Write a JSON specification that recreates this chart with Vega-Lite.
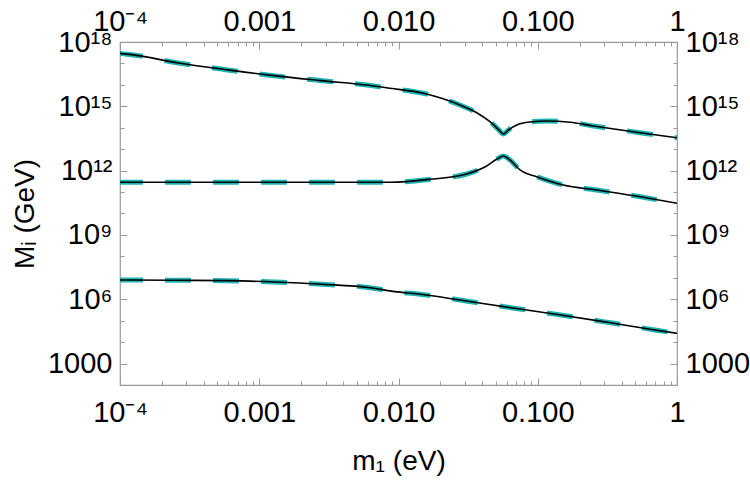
{
  "$schema": "https://vega.github.io/schema/vega-lite/v6.json",
  "width": 557,
  "height": 343,
  "autosize": "none",
  "padding": {"left": 120, "top": 42, "right": 73, "bottom": 95},
  "background": "white",
  "config": {
    "view": {"stroke": "#9a9a9a", "strokeWidth": 1.2},
    "font": "Liberation Sans",
    "axis": {
      "domain": false,
      "grid": false,
      "tickColor": "#9a9a9a",
      "labelFont": "Liberation Sans",
      "labelFontSize": 29,
      "labelColor": "black",
      "titleFont": "Liberation Sans",
      "titleFontSize": 28,
      "titleFontWeight": "normal",
      "titleColor": "black",
      "labelOverlap": false,
      "labelFlush": false
    }
  },
  "data": {
    "values": [
      {"series": "N1", "m1": 0.0001, "M": 2.95e17},
      {"series": "N1", "m1": 0.0001213, "M": 2.57e17},
      {"series": "N1", "m1": 0.0002636, "M": 1.047e17},
      {"series": "N1", "m1": 0.0005741, "M": 5.13e16},
      {"series": "N1", "m1": 0.001268, "M": 2.69e16},
      {"series": "N1", "m1": 0.002761, "M": 1.585e16},
      {"series": "N1", "m1": 0.006138, "M": 9.55e15},
      {"series": "N1", "m1": 0.00869, "M": 6.92e15},
      {"series": "N1", "m1": 0.01507, "M": 4.05e15},
      {"series": "N1", "m1": 0.02844, "M": 1.067e15},
      {"series": "N1", "m1": 0.03648, "M": 5.04e14},
      {"series": "N1", "m1": 0.04539, "M": 1.914e14},
      {"series": "N1", "m1": 0.05212, "M": 8.47e13},
      {"series": "N1", "m1": 0.05662, "M": 5.12e13},
      {"series": "N1", "m1": 0.06152, "M": 7.87e13},
      {"series": "N1", "m1": 0.07063, "M": 1.346e14},
      {"series": "N1", "m1": 0.0879, "M": 1.858e14},
      {"series": "N1", "m1": 0.1159, "M": 2.065e14},
      {"series": "N1", "m1": 0.1706, "M": 1.799e14},
      {"series": "N1", "m1": 0.2438, "M": 1.247e14},
      {"series": "N1", "m1": 0.542, "M": 5.89e13},
      {"series": "N1", "m1": 1, "M": 3.44e13},

      {"series": "N2", "m1": 0.0001, "M": 2.88e11},
      {"series": "N2", "m1": 0.001, "M": 2.88e11},
      {"series": "N2", "m1": 0.003, "M": 2.86e11},
      {"series": "N2", "m1": 0.00869, "M": 2.86e11},
      {"series": "N2", "m1": 0.01683, "M": 3.945e11},
      {"series": "N2", "m1": 0.0309, "M": 6.966e11},
      {"series": "N2", "m1": 0.04295, "M": 1.644e12},
      {"series": "N2", "m1": 0.0507, "M": 3.38e12},
      {"series": "N2", "m1": 0.05662, "M": 4.82e12},
      {"series": "N2", "m1": 0.0632, "M": 3.133e12},
      {"series": "N2", "m1": 0.07464, "M": 1.072e12},
      {"series": "N2", "m1": 0.0982, "M": 5.21e11},
      {"series": "N2", "m1": 0.1524, "M": 2.138e11},
      {"series": "N2", "m1": 0.2649, "M": 1.25e11},
      {"series": "N2", "m1": 0.5728, "M": 5.71e10},
      {"series": "N2", "m1": 1, "M": 3.0e10},

      {"series": "N3", "m1": 0.0001, "M": 7.94e6},
      {"series": "N3", "m1": 0.0001213, "M": 7.92e6},
      {"series": "N3", "m1": 0.0002655, "M": 7.67e6},
      {"series": "N3", "m1": 0.0005861, "M": 7.36e6},
      {"series": "N3", "m1": 0.001297, "M": 6.4e6},
      {"series": "N3", "m1": 0.002838, "M": 5.0e6},
      {"series": "N3", "m1": 0.006237, "M": 3.467e6},
      {"series": "N3", "m1": 0.00944, "M": 2.259e6},
      {"series": "N3", "m1": 0.01387, "M": 1.762e6},
      {"series": "N3", "m1": 0.03055, "M": 8.32e5},
      {"series": "N3", "m1": 0.06607, "M": 3.917e5},
      {"series": "N3", "m1": 0.1462, "M": 1.849e5},
      {"series": "N3", "m1": 0.3162, "M": 8.43e4},
      {"series": "N3", "m1": 0.695, "M": 3.69e4},
      {"series": "N3", "m1": 1, "M": 2.59e4}
    ]
  },
  "layer": [
    {
      "mark": {"type": "line", "interpolate": "monotone", "color": "#1fb3b3", "strokeWidth": 5, "strokeDash": [26, 22], "strokeDashOffset": 3, "clip": true},
      "encoding": {
        "x": {
          "field": "m1", "type": "quantitative",
          "scale": {"type": "log", "domain": [0.0001, 1], "nice": false},
          "axis": {
            "orient": "bottom",
            "title": "m₁ (eV)",
            "titlePadding": 20,
            "values": [0.0001, 0.001, 0.01, 0.1, 1],
            "tickSize": -7,
            "labelPadding": 20,
            "labelExpr": "datum.value == 0.0001 ? '10⁻⁴' : datum.value == 0.001 ? '0.001' : datum.value == 0.01 ? '0.010' : datum.value == 0.1 ? '0.100' : '1'"
          }
        },
        "y": {
          "field": "M", "type": "quantitative",
          "scale": {"type": "log", "domain": [100, 1e18], "nice": false},
          "axis": {
            "orient": "left",
            "title": "Mᵢ (GeV)",
            "titlePadding": 8,
            "values": [1000, 1e6, 1e9, 1e12, 1e15, 1e18],
            "tickSize": -7,
            "labelPadding": 15,
            "labelExpr": "datum.value == 1000 ? '1000' : datum.value == 1e6 ? '10⁶' : datum.value == 1e9 ? '10⁹' : datum.value == 1e12 ? '10¹²' : datum.value == 1e15 ? '10¹⁵' : '10¹⁸'"
          }
        },
        "detail": {"field": "series"}
      }
    },
    {
      "mark": {"type": "line", "interpolate": "monotone", "color": "black", "strokeWidth": 1.6, "clip": true},
      "encoding": {
        "x": {
          "field": "m1", "type": "quantitative",
          "axis": {
            "orient": "top",
            "title": null,
            "values": [0.0001, 0.001, 0.01, 0.1, 1],
            "tickSize": -7,
            "labelPadding": 13,
            "labelExpr": "datum.value == 0.0001 ? '10⁻⁴' : datum.value == 0.001 ? '0.001' : datum.value == 0.01 ? '0.010' : datum.value == 0.1 ? '0.100' : '1'"
          }
        },
        "y": {
          "field": "M", "type": "quantitative",
          "axis": {
            "orient": "right",
            "title": null,
            "values": [1000, 1e6, 1e9, 1e12, 1e15, 1e18],
            "tickSize": -7,
            "labelPadding": 15,
            "labelExpr": "datum.value == 1000 ? '1000' : datum.value == 1e6 ? '10⁶' : datum.value == 1e9 ? '10⁹' : datum.value == 1e12 ? '10¹²' : datum.value == 1e15 ? '10¹⁵' : '10¹⁸'"
          }
        },
        "detail": {"field": "series"}
      }
    },
    {
      "mark": {"type": "line", "opacity": 0},
      "encoding": {
        "x": {
          "field": "m1", "type": "quantitative",
          "axis": {
            "orient": "bottom",
            "title": null,
            "labels": false,
            "tickSize": -4,
            "values": [0.0002, 0.0003, 0.0004, 0.0005, 0.0006, 0.0007, 0.0008, 0.0009, 0.002, 0.003, 0.004, 0.005, 0.006, 0.007, 0.008, 0.009, 0.02, 0.03, 0.04, 0.05, 0.06, 0.07, 0.08, 0.09, 0.2, 0.3, 0.4, 0.5, 0.6, 0.7, 0.8, 0.9]
          }
        },
        "y": {
          "field": "M", "type": "quantitative",
          "axis": {
            "orient": "left",
            "title": null,
            "labels": false,
            "tickSize": -4,
            "values": [1e4, 1e5, 1e7, 1e8, 1e10, 1e11, 1e13, 1e14, 1e16, 1e17]
          }
        },
        "detail": {"field": "series"}
      }
    },
    {
      "mark": {"type": "line", "opacity": 0},
      "encoding": {
        "x": {
          "field": "m1", "type": "quantitative",
          "axis": {
            "orient": "top",
            "title": null,
            "labels": false,
            "tickSize": -4,
            "values": [0.0002, 0.0003, 0.0004, 0.0005, 0.0006, 0.0007, 0.0008, 0.0009, 0.002, 0.003, 0.004, 0.005, 0.006, 0.007, 0.008, 0.009, 0.02, 0.03, 0.04, 0.05, 0.06, 0.07, 0.08, 0.09, 0.2, 0.3, 0.4, 0.5, 0.6, 0.7, 0.8, 0.9]
          }
        },
        "y": {
          "field": "M", "type": "quantitative",
          "axis": {
            "orient": "right",
            "title": null,
            "labels": false,
            "tickSize": -4,
            "values": [1e4, 1e5, 1e7, 1e8, 1e10, 1e11, 1e13, 1e14, 1e16, 1e17]
          }
        },
        "detail": {"field": "series"}
      }
    }
  ]
}
